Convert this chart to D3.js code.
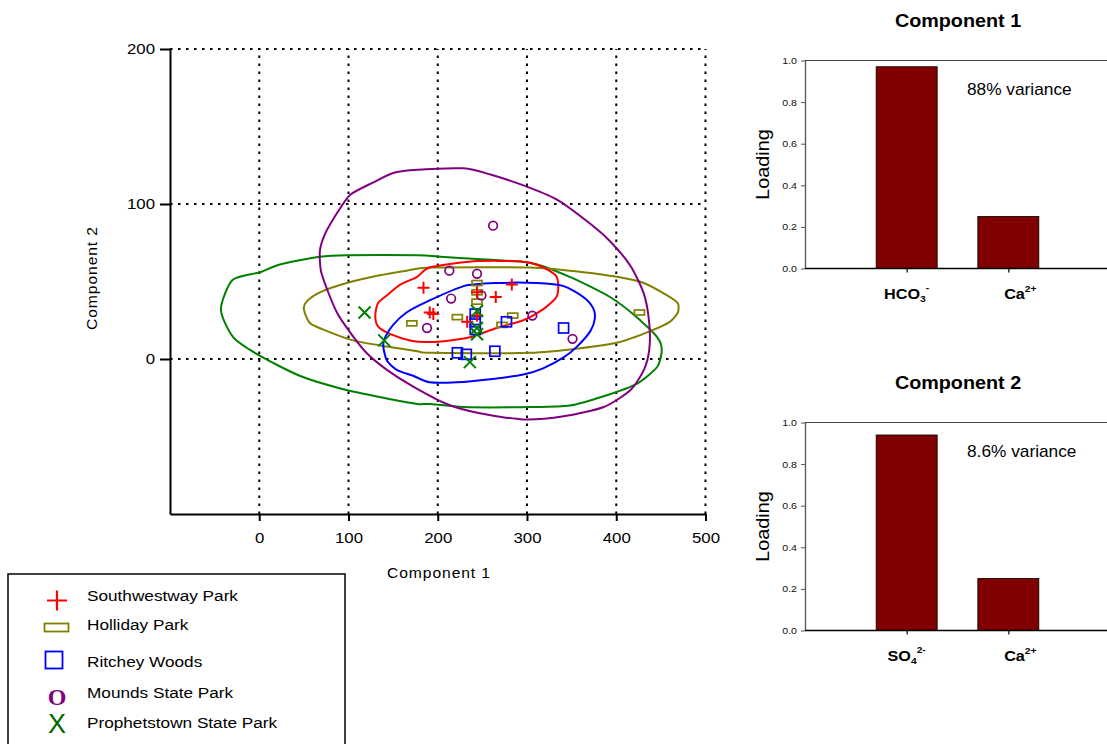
<!DOCTYPE html>
<html>
<head>
<meta charset="utf-8">
<script src="https://cdn.jsdelivr.net/npm/d3@7"></script>
<style>
  html, body { margin: 0; padding: 0; background: #fff; }
  svg { display: block; font-family: "Liberation Sans", Arial, sans-serif; }
</style>
</head>
<body>
<svg id="chart" width="1107" height="744"></svg>
<script>
// ---- PCA scores, one array per park: [component 1, component 2] ----
const southwestway = [[184, 46], [191, 30], [195, 29], [233, 24], [265, 40], [283, 48], [244, 43], [244, 28]];
const holliday     = [[171, 23], [222, 27], [244, 49], [244, 43], [244, 37], [272, 22], [284, 28], [426, 30]];
const ritchey      = [[222, 4], [232, 3], [264, 5], [277, 24], [341, 20], [242, 29], [242, 24], [242, 19]];
const mounds       = [[262, 86], [213, 57], [244, 55], [249, 41], [215, 39], [188, 20], [306, 28], [351, 13]];
const prophetstown = [[118, 30], [140, 12], [236, -2], [244, 31], [244, 20], [244, 16]];

// ---- outlines of each park's scatter region ----
const outlineSouthwestway = [[130, 28], [133, 36], [145, 42], [158, 48], [177, 53], [191, 59], [240, 63], [292, 63], [315, 60], [332, 54], [335, 48], [333, 40], [318, 32], [296, 25], [266, 20], [236, 14], [214, 12], [191, 11], [169, 12], [147, 16], [133, 21]];
const outlineHolliday = [[50, 32], [53, 37], [68, 43], [98, 49], [135, 54], [165, 57], [191, 59], [304, 59], [363, 56], [401, 53], [431, 49], [457, 41], [469, 36], [469, 30], [460, 24], [438, 18], [404, 11], [360, 7], [304, 4], [191, 4], [177, 5], [143, 8], [105, 12], [76, 18], [57, 23]];
const outlineRitchey = [[139, 8], [141, 14], [150, 22], [165, 30], [188, 37], [229, 47], [266, 49], [311, 49], [341, 47], [363, 40], [374, 33], [376, 26], [371, 18], [356, 8], [341, 1], [318, -6], [296, -10], [259, -13], [221, -15], [191, -15], [173, -11], [154, -7], [143, -1]];
const outlineMounds = [[68, 70], [74, 81], [87, 94], [102, 106], [128, 114], [150, 120], [173, 122], [229, 123], [259, 119], [296, 112], [333, 103], [367, 89], [393, 76], [416, 60], [431, 42], [437, 23], [437, 6], [431, -7], [416, -20], [386, -31], [341, -37], [296, -39], [247, -35], [210, -29], [173, -18], [143, -7], [120, 4], [102, 17], [87, 30], [76, 45], [69, 57]];
const outlineProphetstown = [[-43, 32], [-30, 51], [1, 56], [23, 61], [68, 66], [98, 67], [177, 67], [203, 66], [229, 65], [304, 62], [348, 53], [393, 40], [423, 27], [446, 14], [451, 6], [446, -5], [423, -16], [386, -24], [348, -30], [304, -31], [229, -31], [191, -29], [177, -29], [139, -25], [91, -19], [46, -11], [1, 2], [-29, 14]];

const parkNames  = ["Southwestway Park", "Holliday Park", "Ritchey Woods", "Mounds State Park", "Prophetstown State Park"];
const xTicks     = [0, 100, 200, 300, 400, 500];
const yTicks     = [0, 100, 200];

// ---- loadings ----
const comp1Ions     = ["HCO3-", "Ca2+"];
const comp1Loadings = [0.97, 0.25];
const comp2Ions     = ["SO42-", "Ca2+"];
const comp2Loadings = [0.94, 0.25];
const loadingTicks  = [0, 0.2, 0.4, 0.6, 0.8, 1.0];
// ion formula pieces: [symbol, subscript, charge]
const ionParts = { "HCO3-": ["HCO", "3", "-"], "SO42-": ["SO", "4", "2-"], "Ca2+": ["Ca", "", "2+"] };

const svg = d3.select("#chart");

// text helper: the type in this figure is set slightly wide
function wideText(parent, x, y, str, size, opts = {}) {
  const sx = opts.sx || 1.15;
  const rot = opts.rotate ? ` rotate(${opts.rotate})` : "";
  return parent.append("text")
    .attr("transform", `translate(${x},${y})${rot} scale(${sx},1)`)
    .attr("text-anchor", opts.anchor || "start")
    .attr("font-size", size)
    .attr("font-weight", opts.bold ? "bold" : null)
    .attr("fill", opts.fill || "#000")
    .text(str);
}

// ================= score plot =================
const x = d3.scaleLinear().domain([-100, 500]).range([170, 705.5]);
const y = d3.scaleLinear().domain([-100, 200]).range([514, 49]);

const dotted = g => g.attr("stroke", "#000").attr("stroke-width", 2).attr("stroke-dasharray", "2.5,5.5").attr("fill", "none");

const grid = svg.append("g");
xTicks.forEach(v => {
  grid.append("line").attr("x1", x(v)).attr("x2", x(v)).attr("y1", y(-100)).attr("y2", y(200)).call(dotted);
});
yTicks.forEach(v => {
  grid.append("line").attr("x1", x(-100)).attr("x2", x(500)).attr("y1", y(v)).attr("y2", y(v)).call(dotted);
});

const outlineLine = d3.line().x(d => x(d[0])).y(d => y(d[1])).curve(d3.curveCardinalClosed.tension(0.3));
const outlines = [
  [outlineProphetstown, "#008000"],
  [outlineHolliday, "#808000"],
  [outlineSouthwestway, "#ff0000"],
  [outlineRitchey, "#0000ff"],
  [outlineMounds, "#800080"]
];
svg.append("g").selectAll("path").data(outlines).join("path")
  .attr("d", d => outlineLine(d[0]))
  .attr("fill", "none")
  .attr("stroke", d => d[1])
  .attr("stroke-width", 2);

// markers
const pts = svg.append("g");
pts.selectAll(".hp").data(holliday).join("rect")
  .attr("x", d => x(d[0]) - 5).attr("y", d => y(d[1]) - 2.5)
  .attr("width", 10).attr("height", 5)
  .attr("fill", "none").attr("stroke", "#808000").attr("stroke-width", 1.7);
pts.selectAll(".rw").data(ritchey).join("rect")
  .attr("x", d => x(d[0]) - 5).attr("y", d => y(d[1]) - 5)
  .attr("width", 10).attr("height", 10)
  .attr("fill", "none").attr("stroke", "#0000ff").attr("stroke-width", 1.7);
pts.selectAll(".ms").data(mounds).join("circle")
  .attr("cx", d => x(d[0])).attr("cy", d => y(d[1])).attr("r", 4.3)
  .attr("fill", "none").attr("stroke", "#800080").attr("stroke-width", 1.7);
pts.selectAll(".sw").data(southwestway).join("path")
  .attr("d", d => `M${x(d[0]) - 6},${y(d[1])}h12M${x(d[0])},${y(d[1]) - 6}v12`)
  .attr("stroke", "#ff0000").attr("stroke-width", 2);
pts.selectAll(".pt").data(prophetstown).join("path")
  .attr("d", d => `M${x(d[0]) - 6},${y(d[1]) - 6}l12,12M${x(d[0]) + 6},${y(d[1]) - 6}l-12,12`)
  .attr("stroke", "#008000").attr("stroke-width", 2);

// axes
const tickStretch = 1.2;
const xAxis = svg.append("g").attr("transform", `translate(0,${y(-100)})`)
  .call(d3.axisBottom(x).tickValues(xTicks).tickSize(7).tickSizeOuter(0).tickPadding(12));
const yAxis = svg.append("g").attr("transform", `translate(${x(-100)},0)`)
  .call(d3.axisLeft(y).tickValues(yTicks).tickSize(10).tickSizeOuter(0).tickPadding(5));
[xAxis, yAxis].forEach(a => {
  a.select(".domain").attr("stroke", "#000").attr("stroke-width", 2);
  a.selectAll(".tick line").attr("stroke", "#000").attr("stroke-width", 2);
  a.selectAll(".tick text").attr("font-size", 14).attr("fill", "#000")
    .attr("font-family", "Liberation Sans, Arial, sans-serif")
    .attr("transform", `scale(${tickStretch},1)`);
});
yAxis.selectAll(".tick text").attr("x", -15 / tickStretch);

wideText(svg, 439, 578, "Component 1", 14, { anchor: "middle", sx: 1.12 }).attr("letter-spacing", 0.8);
wideText(svg, 97, 278, "Component 2", 14, { anchor: "middle", sx: 1.12, rotate: -90 }).attr("letter-spacing", 0.8);

// legend
const legend = svg.append("g");
legend.append("rect").attr("x", 8).attr("y", 574).attr("width", 337).attr("height", 180)
  .attr("fill", "#fff").attr("stroke", "#000").attr("stroke-width", 1.5);
const legendY = [600.5, 630, 666.5, 697.5, 727.5];
const symY = [600.5, 627.5, 660, 696.5, 723];
parkNames.forEach((n, i) => wideText(legend, 87, legendY[i], n, 15.5, { sx: 1.11 }));
legend.append("path").attr("d", `M47,${symY[0]}h20M57,${symY[0] - 10}v20`).attr("stroke", "#ff0000").attr("stroke-width", 2.2);
legend.append("rect").attr("x", 44.5).attr("y", symY[1] - 4).attr("width", 24).attr("height", 8)
  .attr("fill", "none").attr("stroke", "#808000").attr("stroke-width", 1.8);
legend.append("rect").attr("x", 45.5).attr("y", symY[2] - 8.5).attr("width", 17).attr("height", 17)
  .attr("fill", "none").attr("stroke", "#0000ff").attr("stroke-width", 1.8);
legend.append("text").attr("x", 57).attr("y", symY[3] + 8).attr("text-anchor", "middle")
  .attr("font-family", "Liberation Serif, Times New Roman, serif").attr("font-size", 24).attr("font-weight", "bold")
  .attr("fill", "#800080").text("O");
legend.append("text").attr("x", 57).attr("y", symY[4] + 10).attr("text-anchor", "middle")
  .attr("font-size", 27).attr("fill", "#006400").text("X");

// ================= loading bar charts =================
function ionLabel(parent, cx, baseY, name) {
  const [base, sub, sup] = ionParts[name];
  // cations are set a little right of their tick
  const shift = sub ? 0 : 12;
  const t = parent.append("text")
    .attr("transform", `translate(${cx + shift},${baseY}) scale(1.08,1)`)
    .attr("text-anchor", "middle").attr("font-size", 15).attr("font-weight", "bold");
  t.append("tspan").text(base);
  if (sub) t.append("tspan").attr("font-size", 9.5).attr("dy", 3).text(sub);
  t.append("tspan").attr("font-size", 9.5).attr("dy", sub ? -11 : -7).text(sup);
  return t;
}

function loadingChart(top, title, ions, loads, note) {
  const yb = d3.scaleLinear().domain([0, 1]).range([top + 208, top]);
  const xb = d3.scalePoint().domain(ions).range([805, 1110]).padding(1);
  const g = svg.append("g");

  wideText(g, 958, top - 34, title, 17.5, { anchor: "middle", bold: true, sx: 1.13 });

  g.selectAll("rect.bar").data(ions).join("rect")
    .attr("x", d => xb(d) - 30.5).attr("width", 61)
    .attr("y", (d, i) => yb(loads[i])).attr("height", (d, i) => yb(0) - yb(loads[i]))
    .attr("fill", "#800000").attr("stroke", "#000").attr("stroke-width", 0.8);

  // frame top line
  g.append("line").attr("x1", 805).attr("x2", 1107).attr("y1", yb(1)).attr("y2", yb(1))
    .attr("stroke", "#444").attr("stroke-width", 1.2);

  const ya = g.append("g").attr("transform", "translate(805,0)")
    .call(d3.axisLeft(yb).tickValues(loadingTicks).tickFormat(d3.format(".1f")).tickSize(4).tickSizeOuter(0).tickPadding(4));
  ya.select(".domain").attr("stroke", "#555").attr("stroke-width", 1.3);
  ya.selectAll(".tick line").attr("stroke", "#555");
  ya.selectAll(".tick text").attr("font-size", 9.5).attr("fill", "#111")
    .attr("font-family", "Liberation Sans, Arial, sans-serif")
    .attr("transform", "scale(1.12,1)").attr("x", -8 / 1.12);

  const xa = g.append("g").attr("transform", `translate(0,${yb(0)})`)
    .call(d3.axisBottom(xb).tickSize(4).tickSizeOuter(0).tickFormat(""));
  xa.select(".domain").attr("d", `M805,0H1107`).attr("stroke", "#000").attr("stroke-width", 1.5);
  xa.selectAll(".tick line").attr("stroke", "#000").attr("stroke-width", 1.2);

  ions.forEach(ion => ionLabel(g, xb(ion), yb(0) + 30, ion));

  wideText(g, 769, top + 104, "Loading", 19, { anchor: "middle", rotate: -90, sx: 1.04 });

  wideText(g, 967, top + 34, note, 16, { sx: 1.08 });
}

loadingChart(60.5, "Component 1", comp1Ions, comp1Loadings, "88% variance");
loadingChart(422.5, "Component 2", comp2Ions, comp2Loadings, "8.6% variance");
</script>
</body>
</html>
